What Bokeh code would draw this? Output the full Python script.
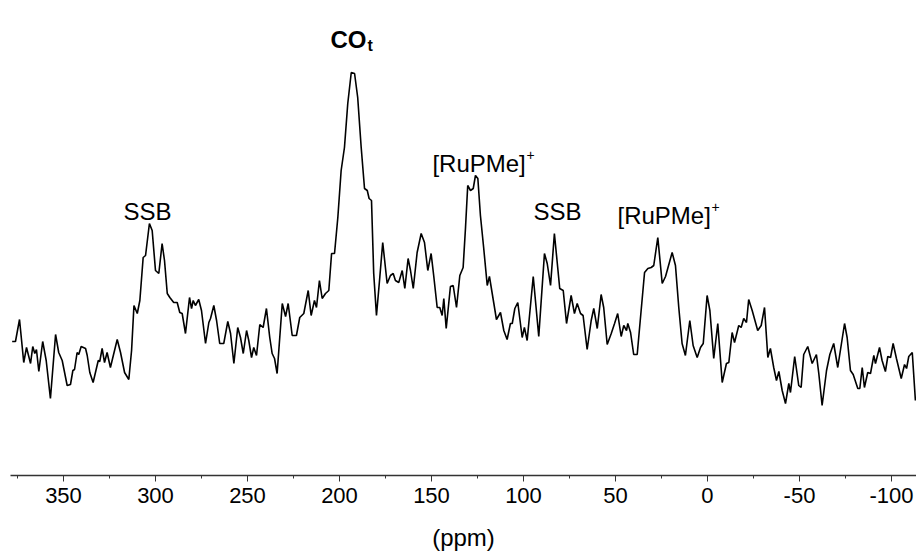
from bokeh.plotting import figure
from bokeh.models import Range1d, FixedTicker, Label
from bokeh.embed import file_html
from bokeh.resources import INLINE

# chemical shift (ppm) and intensity (a.u.)
ppm = [377.9, 376.1, 373.9, 371.6, 370.1, 369.0, 367.9, 366.7, 365.6, 364.7,
       363.4, 361.3, 359.4, 357.1, 354.3, 352.6, 350.7, 348.0, 346.2, 344.9,
       344.0, 342.6, 341.7, 340.4, 338.0, 337.1, 335.7, 333.9, 331.1, 330.3,
       329.0, 327.7, 326.3, 324.5, 320.8, 319.0, 316.8, 314.5, 313.0, 311.7,
       309.9, 308.5, 306.7, 305.4, 303.3, 301.8, 300.0, 298.2, 296.4, 295.1,
       293.6, 292.2, 290.1, 288.2, 286.8, 285.5, 283.7, 281.5, 280.4, 279.5,
       278.3, 276.5, 275.0, 272.8, 271.0, 270.1, 268.3, 266.8, 265.1, 262.9,
       260.7, 259.2, 257.4, 255.3, 253.8, 252.3, 250.5, 249.3, 247.8, 246.6,
       245.1, 243.3, 241.5, 239.7, 237.9, 236.6, 235.3, 233.9, 231.1, 229.3,
       227.9, 225.7, 223.4, 221.6, 219.4, 217.0, 215.4, 213.6, 212.5, 210.9,
       209.4, 207.6, 205.8, 204.3, 202.7, 200.9, 199.1, 197.3, 195.5, 193.6,
       191.8, 190.1, 188.2, 186.4, 184.9, 183.9, 182.6, 181.4, 179.9, 178.1,
       176.5, 174.1, 172.3, 170.8, 169.6, 167.8, 165.9, 164.5, 162.7, 161.4,
       159.9, 157.8, 155.6, 153.8, 152.0, 150.2, 148.8, 146.9, 145.5, 144.2,
       143.3, 142.0, 139.7, 138.2, 136.4, 134.6, 132.8, 131.5, 130.3, 128.8,
       127.3, 126.1, 124.8, 123.4, 121.6, 119.7, 118.5, 116.1, 114.7, 112.5,
       110.7, 108.9, 107.1, 106.1, 104.7, 103.1, 100.7, 99.5, 98.0, 94.7,
       91.7, 88.6, 87.1, 85.3, 83.2, 81.4, 80.3, 78.4, 76.6, 74.1,
       72.3, 70.8, 69.0, 67.6, 65.4, 63.2, 61.8, 59.9, 57.8, 56.4,
       54.5, 52.3, 50.5, 48.8, 46.9, 45.5, 44.0, 43.3, 41.8, 40.1,
       38.2, 36.4, 34.2, 32.4, 30.6, 29.2, 27.0, 24.6, 22.8, 21.6,
       19.2, 17.4, 15.6, 13.8, 12.0, 9.6, 7.8, 5.6, 3.8, 2.3,
       0.2, -1.3, -3.4, -5.6, -8.0, -10.3, -11.6, -13.4, -14.7, -17.0,
       -18.3, -19.7, -21.2, -22.4, -24.3, -27.3, -29.2, -31.0, -32.8, -34.2,
       -36.0, -37.5, -38.8, -40.6, -42.4, -44.2, -45.1, -47.4, -49.6, -50.9,
       -52.3, -54.5, -56.9, -59.2, -60.5, -62.3, -64.7, -66.5, -68.6, -70.8,
       -74.5, -75.9, -77.7, -79.2, -81.7, -82.8, -84.1, -85.3, -87.1, -88.6,
       -90.4, -91.3, -93.5, -94.9, -96.7, -98.0, -99.5, -100.9, -102.7, -105.3,
       -107.1, -108.2, -109.4, -111.3, -113.0]

intensity = [139, 139, 161, 118, 133, 125, 117, 134, 127, 131,
             109, 139, 120, 82, 146, 128, 120, 95, 96, 110,
             111, 128, 126, 134, 132, 125, 108, 98, 120, 119,
             132, 118, 128, 113, 141, 128, 108, 101, 130, 175,
             167, 180, 223, 225, 257, 250, 210, 207, 237, 220,
             187, 183, 178, 178, 168, 167, 147, 183, 172, 180,
             175, 181, 170, 137, 158, 162, 175, 160, 137, 137,
             159, 147, 117, 153, 143, 127, 150, 140, 123, 133,
             125, 156, 153, 172, 143, 127, 122, 107, 177, 164,
             177, 145, 145, 163, 167, 190, 165, 180, 173, 200,
             182, 187, 190, 227, 227, 263, 310, 333, 377, 408,
             407, 383, 333, 292, 290, 282, 280, 207, 165, 203,
             238, 197, 205, 207, 200, 198, 210, 192, 222, 210,
             192, 228, 247, 238, 210, 227, 205, 173, 173, 165,
             182, 152, 194, 195, 173, 205, 213, 253, 295, 290,
             292, 305, 302, 265, 232, 195, 204, 177, 161, 168,
             150, 141, 157, 157, 172, 178, 143, 153, 140, 204,
             144, 227, 217, 195, 247, 213, 192, 190, 157, 185,
             167, 177, 167, 165, 131, 160, 172, 152, 186, 173,
             136, 147, 157, 167, 144, 155, 150, 157, 148, 126,
             126, 163, 208, 212, 213, 215, 243, 197, 204, 212,
             228, 215, 173, 137, 125, 160, 135, 123, 133, 137,
             185, 170, 122, 157, 98, 117, 118, 148, 138, 155,
             153, 162, 158, 181, 170, 150, 155, 173, 123, 132,
             113, 100, 109, 90, 77, 97, 88, 124, 95, 93,
             126, 134, 117, 126, 107, 75, 110, 126, 137, 113,
             157, 143, 110, 106, 92, 92, 113, 93, 108, 107,
             125, 117, 133, 120, 109, 124, 123, 137, 122, 102,
             116, 112, 124, 128, 80]

tick_values = [350, 300, 250, 200, 150, 100, 50, 0, -50, -100]
tick_labels = ["350", "300", "250", "200", "150", "100", "50", "0", "-50", "-100"]
minor_tick_values = [375, 325, 275, 225, 175, 125, 75, 25, -25, -75, -125]

FONT = "Liberation Sans"

p = figure(width=916, height=557, output_backend="svg", toolbar_location=None,
           x_range=Range1d(378.8, -113.6), y_range=Range1d(5, 480),
           y_axis_location=None,
           min_border_left=10, min_border_right=0, min_border_top=0,
           min_border_bottom=82)
p.background_fill_color = "white"
p.border_fill_color = "white"
p.outline_line_color = None
p.grid.visible = False

p.line(ppm, intensity, line_color="black", line_width=1.6)

ax = p.xaxis[0]
ax.ticker = FixedTicker(ticks=tick_values, minor_ticks=minor_tick_values)
ax.major_label_overrides = {v: s for v, s in zip(tick_values, tick_labels)}
ax.axis_line_color = "#333333"
ax.axis_line_width = 1.5
ax.major_tick_line_color = "#333333"
ax.minor_tick_line_color = "#333333"
ax.major_tick_in = 0
ax.major_tick_out = 6
ax.minor_tick_in = 0
ax.minor_tick_out = 3
ax.major_label_standoff = 6
ax.major_label_text_font = FONT
ax.major_label_text_font_size = "22px"
ax.major_label_text_color = "black"
ax.axis_label = "(ppm)"
ax.axis_label_text_font = FONT
ax.axis_label_text_font_style = "normal"
ax.axis_label_text_font_size = "24px"
ax.axis_label_text_color = "black"
ax.axis_label_standoff = 18


def add_label(x, y, text, size="24px", style="normal", align="left",
              x_offset=0, y_offset=0):
    p.add_layout(Label(x=x, y=y, text=text, text_font=FONT,
                       text_font_size=size, text_font_style=style,
                       text_align=align, text_baseline="alphabetic",
                       text_color="black", x_offset=x_offset, y_offset=y_offset))


add_label(304.3, 269, "SSB", align="center")
add_label(81.5, 269, "SSB", align="center")
add_label(149.5, 317, "[RuPMe]")
add_label(149.5, 317, "+", size="14px", x_offset=94, y_offset=9)
add_label(48.9, 265, "[RuPMe]")
add_label(48.9, 265, "+", size="14px", x_offset=94, y_offset=9)
add_label(204.9, 441, "CO", style="bold")
add_label(204.9, 441, "t", size="16px", style="bold", x_offset=37, y_offset=-6)

open("out.html", "w").write(file_html(p, INLINE))
